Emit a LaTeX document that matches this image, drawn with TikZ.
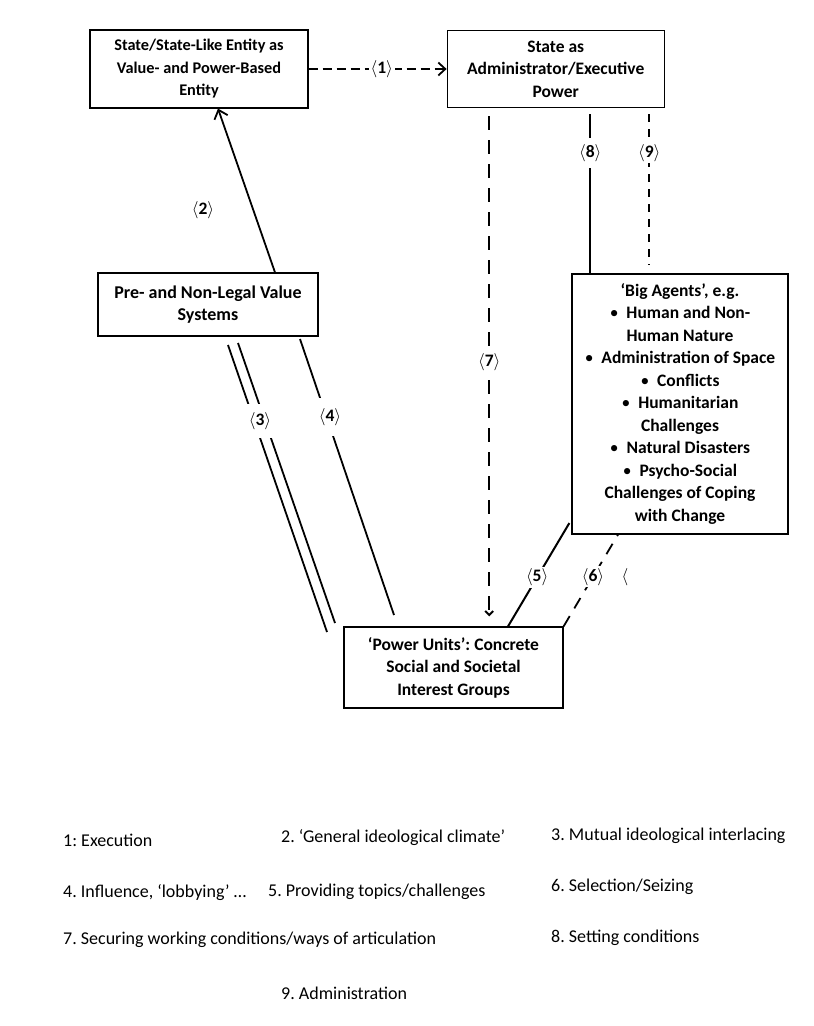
\documentclass[tikz,border=0pt]{standalone}
\usepackage{fontspec}
\setmainfont{Carlito}
\usepackage{tikz}
\usetikzlibrary{positioning,arrows.meta}
\tikzset{box node/.style={draw,line width=1.2pt,align=center,inner sep=0pt,font=\bfseries\fontsize{17.5}{22.5}\selectfont},
	label node/.style={fill=white,inner sep=2pt,font=\bfseries\fontsize{17.5}{22.5}\selectfont},
	key node/.style={anchor=west,inner sep=0pt,font=\fontsize{18}{20}\selectfont},
	dline one/.style={line width=1.8pt,dash pattern=on 9pt off 5pt},
	dline six/.style={line width=1.8pt,dash pattern=on 12pt off 9pt},
	dline seven/.style={line width=2pt,dash pattern=on 14pt off 10pt},
	dline nine/.style={line width=1.8pt,dash pattern=on 8pt off 7pt},}
\newcommand{\lb}[1]{$\langle$#1$\rangle$}
\newcommand{\bul}{{\mdseries\textbullet}\ \ }
\frenchspacing

\begin{document}
\begin{tikzpicture}[x=1pt,y=-1pt]
	\useasboundingbox (0,0) rectangle (814,1026);

	\begin{scope}
	\node[box node,minimum width=218pt,minimum height=78pt,font=\bfseries\fontsize{16.3}{22.5}\selectfont] (st) at (199,69) {State/State-Like Entity as\\Value- and Power-Based\\Entity};
	\node[box node,minimum width=217pt,minimum height=77pt] (adm) [right=138pt of st] {State as\\Administrator/Executive\\Power};
	\node[box node,minimum width=220pt,minimum height=63pt,font=\bfseries\fontsize{18}{22.5}\selectfont] (val) at (208,304.5) {Pre- and Non-Legal Value\\Systems};
	\node[box node,minimum width=216pt,minimum height=260pt] (big) at (680,404) {`Big Agents', e.g.\\\bul Human and Non-\\Human Nature\\\bul Administration of Space\\\bul Conflicts\\\bul Humanitarian\\Challenges\\\bul Natural Disasters\\\bul Psycho-Social\\Challenges of Coping\\with Change};
	\node[box node,minimum width=219pt,minimum height=81pt] (pow) at (453.5,667.5) {`Power Units': Concrete\\Social and Societal\\Interest Groups};
	\end{scope}

	\begin{scope}
	\coordinate (a3) at (228,345);
	\coordinate (b3) at (327,632);
	\coordinate (c3) at (238,343);
	\coordinate (d3) at (335,623);
	\coordinate (a4) at (300,339);
	\coordinate (b4) at (394,615);
	\coordinate (p7) at ([xshift=-66.5pt]adm.south);
	\coordinate (p8) at ([xshift=34.5pt]adm.south);
	\coordinate (p9) at ([xshift=93.5pt]adm.south);

	\path[draw,dline one]
	(st) edge[-{Straight Barb[length=7pt,width=13pt]}] node[label node,pos=.53] {\lb{1}} (adm)
	;
	\path[draw,line width=1.8pt]
	([xshift=67pt]val.north) edge[-{Straight Barb[length=8pt,width=14pt]}] ([xshift=19pt]st.south)
	;
	\node[label node] (l2) at (203,210) {\lb{2}};

	\path[draw,line width=1.8pt]
	(a3) edge (b3)
	(c3) edge (d3)
	(a4) edge (b4)
	;
	\node[label node,minimum height=34pt] (l3) at (260,421) {\lb{3}};
	\node[label node,minimum height=38pt] (l4) at (330,417) {\lb{4}};

	\path[draw,line width=2pt,shorten >=4pt]
	([xshift=54.5pt]pow.north) edge node[label node,pos=.46] {\lb{5}} ([yshift=15pt]big.south west)
	;
	\path[draw,dline six]
	(pow.north east) edge node[label node,pos=.54] {\lb{6}} ([xshift=-62pt]big.south)
	;
	\node[label node] (l6) at (625,577) {$\langle$};

	\path[draw,dline seven]
	(p7) edge[shorten <=8pt,shorten >=10pt,-{Straight Barb[length=4pt,width=8pt]}] node[label node,pos=.49] {\lb{7}} (p7 |- pow.north)
	;
	\path[draw,line width=2pt]
	(p8) edge[shorten <=6pt] node[label node,pos=.27,minimum height=30pt] {\lb{8}} (p8 |- big.north)
	;
	\path[draw,dline nine]
	(p9) edge[shorten <=6pt,shorten >=9pt] node[label node,pos=.27] {\lb{9}} (p9 |- big.north)
	;
	\end{scope}

	\begin{scope}
	\node[key node] (k1) at (63,840) {1: Execution};
	\node[key node] (k2) at (281,838) {2. `General ideological climate'};
	\node[key node] (k3) at (551,836) {3. Mutual ideological interlacing};
	\node[key node] (k4) at (63,893) {4. Influence, `lobbying' …};
	\node[key node] (k5) at (268,892) {5. Providing topics/challenges};
	\node[key node] (k6) at (551,887) {6. Selection/Seizing};
	\node[key node] (k7) at (63,940) {7. Securing working conditions/ways of articulation};
	\node[key node] (k8) at (551,938) {8. Setting conditions};
	\node[key node] (k9) at (281,993) {9. Administration};
	\end{scope}
\end{tikzpicture}
\end{document}
